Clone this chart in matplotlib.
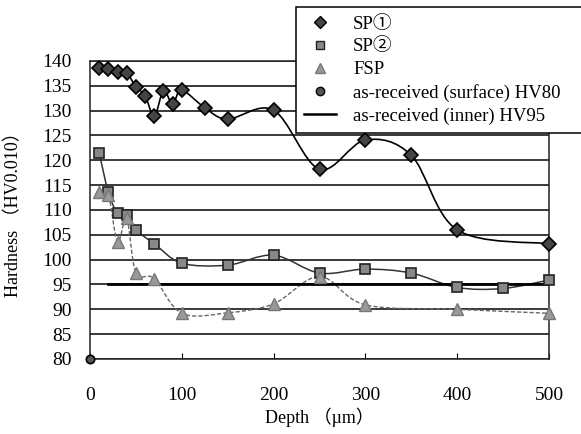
import numpy as np
import matplotlib.pyplot as plt
from matplotlib.path import Path
from matplotlib.patches import PathPatch
from matplotlib.lines import Line2D

plt.rcParams['font.family'] = ['Liberation Serif', 'Noto Sans CJK JP']

# data
sp1_x = [10, 20, 30, 40, 50, 60, 70, 80, 90, 100, 125, 150, 200, 250, 300, 350, 400, 500]
sp1_y = [138.5, 138.4, 137.7, 137.6, 134.8, 133.0, 128.9, 134.0, 131.4, 134.1, 130.6, 128.3, 130.1, 118.2, 124.1, 121.0, 106.0, 103.2]

sp2_x = [10, 20, 30, 40, 50, 70, 100, 150, 200, 250, 300, 350, 400, 450, 500]
sp2_y = [121.5, 113.6, 109.3, 108.9, 106.0, 103.2, 99.3, 98.9, 100.9, 97.3, 98.1, 97.3, 94.4, 94.2, 95.9]

fsp_x = [10, 20, 30, 40, 50, 70, 100, 150, 200, 250, 300, 400, 500]
fsp_y = [113.7, 113.0, 103.6, 108.3, 97.4, 96.2, 89.2, 89.3, 91.1, 96.6, 90.9, 90.0, 89.2]

surf_x = [0]
surf_y = [80]

inner_x = [20, 500]
inner_y = [95, 95]


# excel-like smoothed line (catmull-rom as cubic bezier)
def smooth_path(x, y):
    pts = np.column_stack([x, y]).astype(float)
    n = len(pts)
    verts = [pts[0]]
    codes = [Path.MOVETO]
    for i in range(n - 1):
        p0 = pts[max(i - 1, 0)]
        p1 = pts[i]
        p2 = pts[i + 1]
        p3 = pts[min(i + 2, n - 1)]
        verts += [p1 + (p2 - p0) / 6, p2 - (p3 - p1) / 6, p2]
        codes += [Path.CURVE4] * 3
    return Path(verts, codes)


fig = plt.figure(figsize=(5.81, 4.34), dpi=100)
ax = fig.add_axes([90 / 581, 1 - 359 / 434, 459 / 581, 298 / 434])

ax.set_xlim(0, 500)
ax.set_ylim(80, 140)
ax.set_yticks(range(80, 141, 5))
ax.set_xticks(range(0, 501, 100))
ax.yaxis.grid(True, color='#2a2a2a', lw=1.3)
ax.set_axisbelow(True)

ax.add_patch(PathPatch(smooth_path(sp1_x, sp1_y), fill=False, color='black', lw=1.2, zorder=3))
ax.add_patch(PathPatch(smooth_path(sp2_x, sp2_y), fill=False, color='#333333', lw=1.1, zorder=3))
ax.add_patch(PathPatch(smooth_path(fsp_x, fsp_y), fill=False, color='#666666', lw=1.0, ls=(0, (3, 1.5)), zorder=3))
ax.plot(inner_x, inner_y, color='black', lw=2.0, zorder=3)

ax.plot(sp1_x, sp1_y, 'D', ms=7, mfc='#444444', mec='black', mew=1.2, ls='none', zorder=5, clip_on=False)
ax.plot(sp2_x, sp2_y, 's', ms=7, mfc='#888888', mec='#222222', mew=1.2, ls='none', zorder=5, clip_on=False)
ax.plot(fsp_x, fsp_y, '^', ms=8, mfc='#999999', mec='#777777', mew=1.0, ls='none', zorder=5, clip_on=False)
ax.plot(surf_x, surf_y, 'o', ms=6, mfc='#555555', mec='black', mew=1.2, ls='none', zorder=5, clip_on=False)

for s in ax.spines.values():
    s.set_color('#222222')
    s.set_linewidth(1.1)

ax.tick_params(axis='y', length=0, pad=13, labelsize=14)
ax.tick_params(axis='x', direction='in', length=4, pad=20, labelsize=14)

ax.set_xlabel('Depth （µm）', fontsize=13, labelpad=3)
ax.set_ylabel('Hardness （HV0.010）', fontsize=13)
ax.yaxis.set_label_coords(-0.148, 0.5)

handles = [
    Line2D([], [], marker='D', ms=6, mfc='#444444', mec='black', ls='none'),
    Line2D([], [], marker='s', ms=6, mfc='#888888', mec='#222222', ls='none'),
    Line2D([], [], marker='^', ms=7, mfc='#999999', mec='#777777', ls='none'),
    Line2D([], [], marker='o', ms=6, mfc='#555555', mec='black', ls='none'),
    Line2D([], [], color='black', lw=1.8),
]
labels = ['SP①', 'SP②', 'FSP', 'as-received (surface) HV80', 'as-received (inner) HV95']
leg = fig.legend(handles, labels, loc='upper left',
                 bbox_to_anchor=(296 / 581, 0, 1 - 296 / 581 + 0.01, 1 - 7 / 434),
                 mode='expand', borderaxespad=0, fontsize=13.5, frameon=True,
                 fancybox=False, framealpha=1, edgecolor='black',
                 handlelength=1.7, handletextpad=0.9, borderpad=0.45, labelspacing=0.3)
leg.get_frame().set_linewidth(1.1)

fig.savefig('out.png', dpi=100)
